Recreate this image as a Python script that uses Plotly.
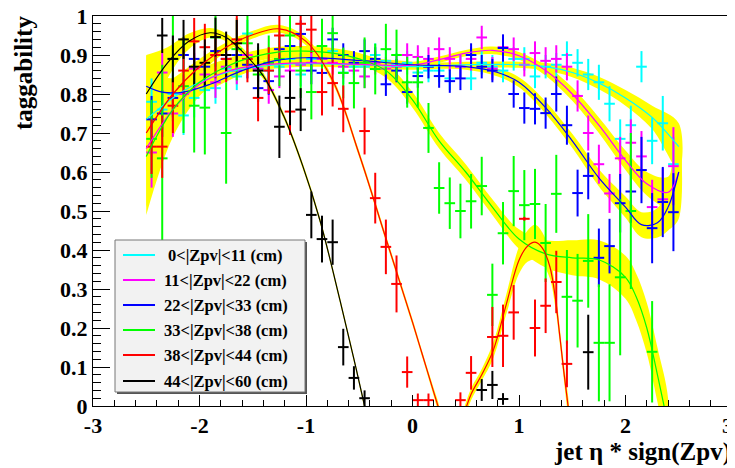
import plotly.graph_objects as go

# ---------------- data ----------------
bins = [round(-2.45 + 0.1 * i, 2) for i in range(50)]

names = ["0<|Zpv|<11 (cm)", "11<|Zpv|<22 (cm)", "22<|Zpv|<33 (cm)",
         "33<|Zpv|<38 (cm)", "38<|Zpv|<44 (cm)", "44<|Zpv|<60 (cm)"]
colors = ["#00ffff", "#ff00ff", "#0000ff", "#00ff00", "#ff0000", "#000000"]

cyan_y = [0.78, 0.76, 0.80, 0.745, 0.79, 0.81, 0.815, 0.865, 0.845, 0.955,
          0.865, 0.86, 0.87, 0.89, 0.85, 0.89, 0.89, 0.91, 0.855, 0.87,
          0.87, 0.90, 0.885, 0.875, 0.88, 0.855, 0.86, 0.86, 0.84, 0.87,
          0.84, 0.88, 0.87, 0.86, 0.89, 0.89, 0.845, 0.87, 0.875, 0.90,
          0.88, 0.85, 0.83, 0.775, 0.685, 0.72, 0.87, 0.68, 0.725, 0.62]
cyan_e = [0.06, 0.05, 0.05, 0.05, 0.05, 0.04, 0.04, 0.035, 0.035, 0.035,
          0.035, 0.035, 0.03, 0.03, 0.03, 0.03, 0.03, 0.03, 0.03, 0.03,
          0.03, 0.03, 0.03, 0.03, 0.03, 0.03, 0.03, 0.03, 0.03, 0.03,
          0.03, 0.03, 0.03, 0.03, 0.03, 0.03, 0.03, 0.03, 0.03, 0.035,
          0.035, 0.04, 0.045, 0.045, 0.05, 0.05, 0.04, 0.06, 0.07, 0.07]

magenta_y = [0.65, 0.855, 0.75, 0.80, 0.865, 0.85, 0.83, 0.87, 0.86, 0.90,
             0.865, 0.81, 0.845, 0.86, 0.875, 0.88, 0.89, 0.88, 0.87, 0.86,
             0.845, 0.88, 0.865, 0.87, 0.90, 0.895, 0.89, 0.915, 0.89, 0.87,
             0.89, 0.945, 0.865, 0.92, 0.915, 0.875, 0.905, 0.885, 0.89, 0.87,
             0.795, 0.70, 0.62, 0.545, 0.635, 0.675, 0.64, 0.51, 0.53, 0.615]
magenta_e = [0.09, 0.05, 0.06, 0.05, 0.04, 0.04, 0.04, 0.035, 0.035, 0.035,
             0.035, 0.035, 0.03, 0.03, 0.03, 0.03, 0.03, 0.03, 0.03, 0.03,
             0.03, 0.03, 0.03, 0.03, 0.03, 0.03, 0.03, 0.03, 0.03, 0.03,
             0.03, 0.03, 0.03, 0.03, 0.03, 0.03, 0.03, 0.035, 0.035, 0.035,
             0.04, 0.045, 0.05, 0.05, 0.055, 0.06, 0.065, 0.07, 0.08, 0.1]

blue_y = [0.735, 0.75, 0.79, 0.90, 0.89, 0.87, 0.91, 0.89, 0.90, 0.875,
          0.815, 0.833, 0.915, 0.923, 0.954, 0.86, 0.854, 0.94, 0.90, 0.88,
          0.91, 0.89, 0.825, 0.86, 0.805, 0.846, 0.87, 0.846, 0.833, 0.84,
          0.90, 0.87, 0.86, 0.918, 0.80, 0.764, 0.762, 0.751, 0.80, 0.72,
          0.546, 0.59, 0.38, 0.41, 0.52, 0.55, 0.605, 0.456, 0.523, 0.497]
blue_e = [0.06, 0.06, 0.05, 0.045, 0.04, 0.04, 0.04, 0.035, 0.035, 0.035,
          0.035, 0.035, 0.035, 0.035, 0.035, 0.035, 0.035, 0.03, 0.03, 0.03,
          0.03, 0.03, 0.03, 0.03, 0.03, 0.03, 0.03, 0.03, 0.03, 0.03,
          0.03, 0.03, 0.03, 0.035, 0.035, 0.04, 0.04, 0.04, 0.045, 0.05,
          0.06, 0.06, 0.075, 0.07, 0.075, 0.08, 0.085, 0.09, 0.09, 0.1]

green_y = [0.685, 0.635, 0.89, 0.82, 0.77, 0.765, 0.945, 0.70, 0.915, 0.93,
           0.85, 0.88, 0.89, 0.95, 0.86, 0.805, 0.923, 0.956, 0.854, 0.828,
           0.88, 0.864, 0.915, 0.90, 0.83, 0.83, 0.713, 0.559, 0.52, 0.50,
           0.525, 0.564, 0.285, 0.443, 0.551, 0.515, 0.518, 0.418, 0.544, 0.28,
           0.27, 0.372, 0.162, 0.162, 0.33, 0.50, None, 0.139, None, None]
green_e = [0.1, 0.24, 0.16, 0.12, 0.12, 0.12, 0.1, 0.13, 0.08, 0.07,
           0.07, 0.07, 0.07, 0.07, 0.07, 0.07, 0.07, 0.07, 0.065, 0.065,
           0.065, 0.065, 0.065, 0.065, 0.065, 0.065, 0.064, 0.066, 0.066, 0.07,
           0.07, 0.075, 0.08, 0.08, 0.09, 0.09, 0.09, 0.1, 0.1, 0.12,
           0.12, 0.12, 0.15, 0.15, 0.2, 0.2, 0.15, 0.13, 0.15, 0.15]

red_y = [0.665, 0.665, 0.77, 0.86, 0.935, 0.92, 0.90, 0.89, 0.94, 0.89,
         0.79, 0.86, 0.95, 0.755, 0.98, 0.965, 0.805, 0.828, 0.762, None,
         0.705, 0.533, 0.408, 0.313, 0.087, 0.015, 0.015, None, None, 0.015,
         0.085, None, 0.177, 0.18, 0.24, 0.48, 0.20, 0.257, 0.318, 0.108,
         None, None, None, None, None, None, None, None, None, None]
red_e = [0.07, 0.08, 0.07, 0.06, 0.06, 0.06, 0.06, 0.06, 0.06, 0.06,
         0.06, 0.06, 0.06, 0.06, 0.06, 0.06, 0.06, 0.06, 0.06, 0.06,
         0.06, 0.065, 0.07, 0.073, 0.04, 0.017, 0.017, 0.02, 0.02, 0.02,
         0.043, 0.05, 0.077, 0.08, 0.07, 0.005, 0.073, 0.07, 0.08, 0.06,
         0.05, 0.05, 0.05, 0.05, 0.05, 0.05, 0.05, 0.05, 0.05, 0.05]

black_y = [None, 0.95, 0.89, 0.94, 0.87, 0.88, 0.946, 0.90, 0.93, None,
           0.86, None, 0.716, 0.79, 0.76, 0.49, 0.428, 0.42, 0.151, 0.072,
           0.02, None, None, None, None, None, None, None, None, None,
           None, 0.041, 0.054, 0.018, None, None, None, None, None, None,
           None, 0.138, None, None, None, None, None, None, None, None]
black_e = [0.06, 0.045, 0.06, 0.05, 0.06, 0.06, 0.05, 0.06, 0.06, 0.06,
           0.07, 0.07, 0.08, 0.07, 0.055, 0.06, 0.06, 0.058, 0.047, 0.03,
           0.02, 0.02, 0.02, 0.02, 0.02, 0.02, 0.02, 0.02, 0.02, 0.02,
           0.02, 0.028, 0.036, 0.015, 0.02, 0.02, 0.02, 0.02, 0.02, 0.02,
           0.02, 0.096, 0.02, 0.02, 0.02, 0.02, 0.02, 0.02, 0.02, 0.02]

# fit curves: x, y, band half width
cyan_fx = [-2.5, -2.25, -2.0, -1.75, -1.5, -1.25, -1.0, -0.5, 0.0, 0.5, 1.0, 1.25, 1.5, 1.75, 2.0, 2.25, 2.5]
cyan_fy = [0.735, 0.79, 0.83, 0.855, 0.868, 0.875, 0.878, 0.875, 0.87, 0.875, 0.875, 0.87, 0.855, 0.828, 0.79, 0.74, 0.665]
cyan_fb = [0.12, 0.05, 0.022, 0.013, 0.01, 0.009, 0.008, 0.008, 0.008, 0.008, 0.008, 0.01, 0.012, 0.016, 0.02, 0.03, 0.06]

magenta_fx = [-2.5, -2.25, -2.0, -1.75, -1.5, -1.0, -0.5, 0.0, 0.25, 0.5, 0.75, 1.0, 1.25, 1.5, 1.75, 2.0, 2.2, 2.4, 2.5]
magenta_fy = [0.66, 0.76, 0.825, 0.857, 0.872, 0.88, 0.876, 0.874, 0.888, 0.905, 0.912, 0.898, 0.86, 0.80, 0.72, 0.63, 0.57, 0.548, 0.60]
magenta_fb = [0.15, 0.06, 0.022, 0.013, 0.01, 0.008, 0.008, 0.008, 0.008, 0.008, 0.01, 0.01, 0.013, 0.017, 0.02, 0.025, 0.03, 0.04, 0.08]

blue_fx = [-2.5, -2.35, -2.15, -1.9, -1.6, -1.3, -1.0, -0.5, 0.0, 0.5, 0.8, 1.0, 1.25, 1.5, 1.75, 2.0, 2.15, 2.3, 2.4, 2.5]
blue_fy = [0.82, 0.805, 0.805, 0.825, 0.86, 0.885, 0.893, 0.886, 0.875, 0.87, 0.855, 0.83, 0.765, 0.68, 0.585, 0.51, 0.465, 0.47, 0.51, 0.60]
blue_fb = [0.08, 0.04, 0.022, 0.013, 0.01, 0.008, 0.008, 0.008, 0.008, 0.008, 0.01, 0.013, 0.016, 0.018, 0.022, 0.027, 0.032, 0.038, 0.06, 0.12]

green_fx = [-2.5, -2.25, -2.0, -1.75, -1.5, -1.25, -1.0, -0.75, -0.5, -0.25, 0.0, 0.25, 0.5, 0.75, 1.0, 1.25, 1.5, 1.75, 2.0, 2.1, 2.2, 2.3, 2.4]
green_fy = [0.64, 0.76, 0.83, 0.87, 0.895, 0.908, 0.91, 0.905, 0.89, 0.86, 0.785, 0.68, 0.60, 0.51, 0.428, 0.39, 0.38, 0.375, 0.33, 0.28, 0.20, 0.08, -0.05]
green_fb = [0.15, 0.07, 0.035, 0.02, 0.015, 0.013, 0.013, 0.013, 0.015, 0.018, 0.02, 0.02, 0.02, 0.02, 0.025, 0.035, 0.045, 0.05, 0.055, 0.06, 0.065, 0.07, 0.07]

red1_fx = [-2.5, -2.25, -2.0, -1.75, -1.5, -1.25, -1.0, -0.75, -0.5, -0.25, 0.0, 0.1, 0.2, 0.25]
red1_fy = [0.70, 0.80, 0.87, 0.92, 0.952, 0.967, 0.935, 0.835, 0.645, 0.43, 0.215, 0.125, 0.035, -0.01]
red1_fb = [0.1, 0.04, 0.02, 0.012, 0.01, 0.01, 0.01, 0.008, 0.008, 0.008, 0.008, 0.008, 0.01, 0.01]

red2_fx = [0.45, 0.55, 0.65, 0.76, 0.88, 1.0, 1.08, 1.15, 1.22, 1.29, 1.34, 1.38, 1.42, 1.47]
red2_fy = [-0.05, 0.03, 0.08, 0.144, 0.26, 0.374, 0.41, 0.42, 0.405, 0.357, 0.28, 0.187, 0.09, -0.02]
red2_fb = [0.015, 0.015, 0.015, 0.02, 0.025, 0.035, 0.04, 0.045, 0.04, 0.03, 0.025, 0.02, 0.02, 0.02]

black_fx = [-2.5, -2.3, -2.1, -1.9, -1.75, -1.62, -1.4, -1.21, -1.03, -0.87, -0.68, -0.55, -0.45, -0.4]
black_fy = [0.80, 0.88, 0.935, 0.957, 0.945, 0.915, 0.846, 0.744, 0.615, 0.477, 0.27, 0.12, 0.0, -0.06]
black_fb = [0.1, 0.04, 0.02, 0.012, 0.01, 0.01, 0.008, 0.007, 0.007, 0.007, 0.007, 0.007, 0.007, 0.007]

x_ticks = [-3, -2, -1, 0, 1, 2, 3]
x_labels = ["-3", "-2", "-1", "0", "1", "2", "3"]
y_ticks = [0, 0.1, 0.2, 0.3, 0.4, 0.5, 0.6, 0.7, 0.8, 0.9, 1]
y_labels = ["0", "0.1", "0.2", "0.3", "0.4", "0.5", "0.6", "0.7", "0.8", "0.9", "1"]

# ---------------- figure ----------------
FONT = "Liberation Serif"
series = [
    (cyan_y, cyan_e), (magenta_y, magenta_e), (blue_y, blue_e),
    (green_y, green_e), (red_y, red_e), (black_y, black_e),
]
fits = [
    (cyan_fx, cyan_fy, cyan_fb, colors[0]),
    (magenta_fx, magenta_fy, magenta_fb, colors[1]),
    (blue_fx, blue_fy, blue_fb, colors[2]),
    (green_fx, green_fy, green_fb, colors[3]),
    (red1_fx, red1_fy, red1_fb, colors[4]),
    (red2_fx, red2_fy, red2_fb, colors[4]),
    (black_fx, black_fy, black_fb, colors[5]),
]

fig = go.Figure()

# yellow error bands
for fx, fy, fb, c in fits:
    up = [y + b for y, b in zip(fy, fb)]
    lo = [y - b for y, b in zip(fy, fb)]
    fig.add_trace(go.Scatter(
        x=fx + fx[::-1], y=up + lo[::-1], mode="lines", fill="toself",
        fillcolor="#ffff00", line=dict(color="#ffff00", width=0, shape="spline"),
        hoverinfo="skip", showlegend=False))

# data points (crosses)
for (ys, es), c in zip(series, colors):
    xs = [x for x, y in zip(bins, ys) if y is not None]
    yv = [y for y in ys if y is not None]
    ev = [e for y, e in zip(ys, es) if y is not None]
    fig.add_trace(go.Scatter(
        x=xs, y=yv, mode="markers", marker=dict(size=1, color=c),
        error_y=dict(type="data", array=ev, color=c, thickness=2, width=0),
        error_x=dict(type="constant", value=0.05, color=c, thickness=2, width=0),
        showlegend=False))

# fit curves
for fx, fy, fb, c in fits:
    fig.add_trace(go.Scatter(
        x=fx, y=fy, mode="lines", line=dict(color=c, width=1.2, shape="spline"),
        hoverinfo="skip", showlegend=False))

# ---------------- layout (page body has an 8px margin) ----------------
OFF = 8
W, H = 735 - OFF, 468 - OFF
# target plot box in window pixels: x 93..732, y 16..406
L, T = 93 - OFF, 16 - OFF
R = W - (732 - OFF)
B = H - (406 - OFF)
PW, PH = W - L - R, H - T - B


def px(x):  # window pixel -> paper x
    return (x - OFF - L) / PW


def py(y):  # window pixel -> paper y
    return (H - B - (y - OFF)) / PH


shapes = [dict(type="rect", xref="paper", yref="paper",
               x0=px(117), x1=px(307), y0=py(394), y1=py(242),
               fillcolor="#555555", line=dict(width=0), layer="above"),
          dict(type="rect", xref="paper", yref="paper",
               x0=px(115), x1=px(305), y0=py(392), y1=py(240),
               fillcolor="#f2f2f2", line=dict(color="#777777", width=1), layer="above")]
annotations = []
rows = [255, 280, 305, 330, 355, 381]
for i, (name, c) in enumerate(zip(names, colors)):
    shapes.append(dict(type="line", xref="paper", yref="paper",
                       x0=px(123), x1=px(155), y0=py(rows[i]), y1=py(rows[i]),
                       line=dict(color=c, width=2), layer="above"))
    annotations.append(dict(xref="paper", yref="paper", x=px(166 if i == 0 else 162),
                            y=py(rows[i]), text="<b>" + name.replace("<", "&lt;") + "</b>",
                            showarrow=False, xanchor="left", yanchor="middle",
                            font=dict(family=FONT, size=16.5, color="black")))

annotations.append(dict(xref="paper", yref="paper", x=px(733), y=py(452),
                        text="<b>jet η * sign(Zpv)</b>", showarrow=False,
                        xanchor="right", yanchor="middle",
                        font=dict(family=FONT, size=25, color="black")))
annotations.append(dict(xref="paper", yref="paper", x=px(23), y=py(14),
                        text="<b>taggability</b>", showarrow=False, textangle=-90,
                        xanchor="center", yanchor="top",
                        font=dict(family=FONT, size=25, color="black")))
# last x tick label sits at the window edge: keep it fully inside
annotations.append(dict(xref="x", yref="paper", x=x_ticks[-1], y=py(411),
                        text="<b>%s</b>" % x_labels[-1], showarrow=False,
                        xanchor="right", yanchor="top", xshift=3,
                        font=dict(family=FONT, size=22, color="black")))

tickfont = dict(family=FONT, size=22, color="black")
fig.update_layout(
    width=W, height=H, margin=dict(l=L, r=R, t=T, b=B, autoexpand=False),
    paper_bgcolor="white", plot_bgcolor="white",
    showlegend=False, shapes=shapes, annotations=annotations,
    xaxis=dict(range=[-3, 3], tickvals=x_ticks[:-1],
               ticktext=["<b>%s</b>" % s for s in x_labels[:-1]],
               ticks="inside", ticklen=11, tickwidth=1, tickcolor="black",
               showline=True, linecolor="black", linewidth=1, mirror=True, automargin=False,
               ticklabeloverflow="allow",
               showgrid=False, zeroline=False, tickfont=tickfont,
               minor=dict(ticks="inside", dtick=0.2, ticklen=6, tickcolor="black", showgrid=False)),
    yaxis=dict(range=[0, 1], tickvals=y_ticks,
               ticktext=["<b>%s</b>" % s for s in y_labels],
               ticks="inside", ticklen=17, tickwidth=1, tickcolor="black",
               showline=True, linecolor="black", linewidth=1, mirror=True, automargin=False,
               ticklabeloverflow="allow",
               showgrid=False, zeroline=False, tickfont=tickfont,
               minor=dict(ticks="inside", dtick=0.02, ticklen=8, tickcolor="black", showgrid=False)),
)

fig.write_html("out.html")
